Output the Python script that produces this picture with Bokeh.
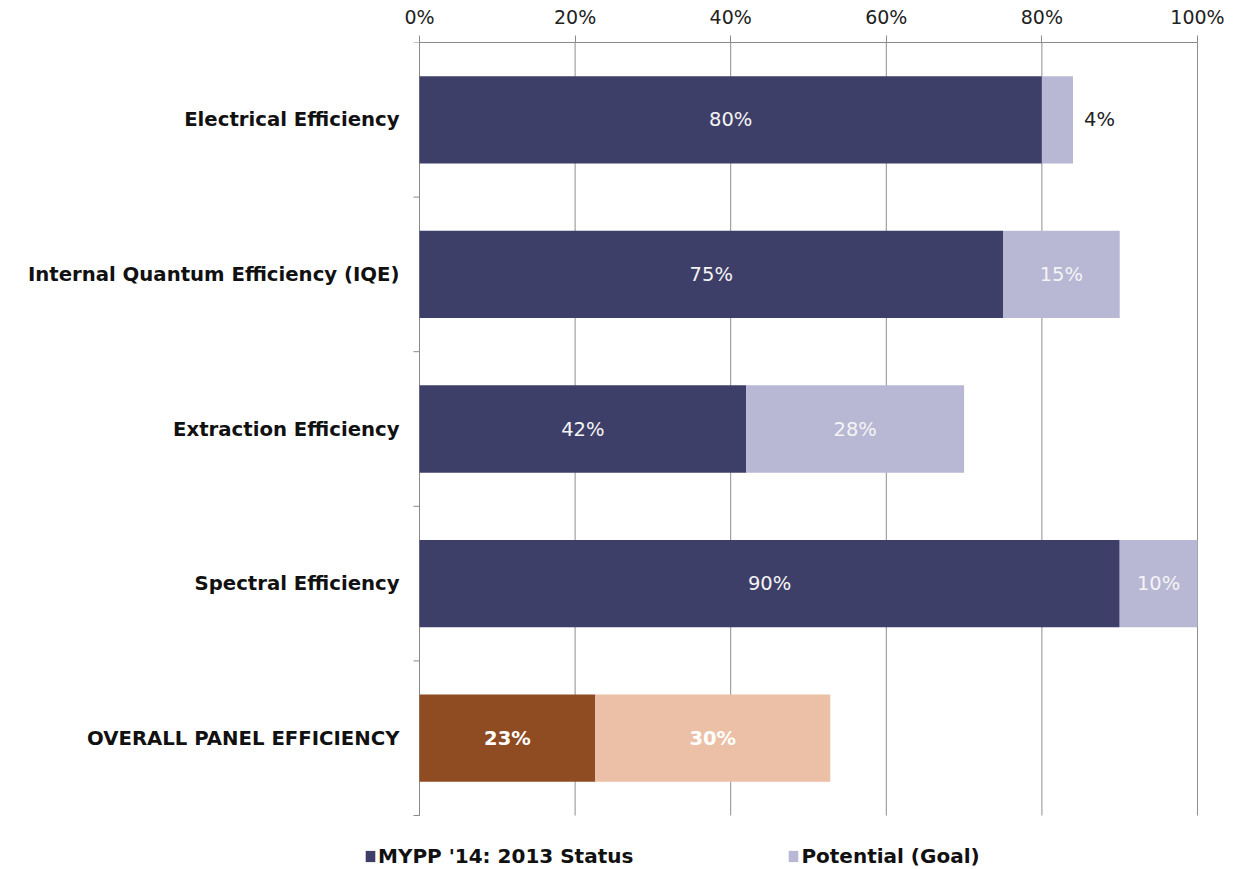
from bokeh.plotting import figure
from bokeh.models import ColumnDataSource, Range1d, FixedTicker, Legend, LegendItem
from bokeh.core.properties import value
from bokeh.embed import file_html
from bokeh.resources import INLINE

# ---- data ----
categories = ["Electrical Efficiency", "Internal Quantum Efficiency (IQE)",
              "Extraction Efficiency", "Spectral Efficiency", "OVERALL PANEL EFFICIENCY"]
status = [80, 75, 42, 90, 22.6]
potential = [4, 15, 28, 10, 30.2]
status_labels = ["80%", "75%", "42%", "90%", "23%"]
potential_labels = ["4%", "15%", "28%", "10%", "30%"]
x_ticks = [0, 20, 40, 60, 80, 100]
x_tick_labels = ["0%", "20%", "40%", "60%", "80%", "100%"]
series_names = ["MYPP '14: 2013 Status", "Potential (Goal)"]

# ---- styles / layout ----
status_colors = ["#3e3f68"] * 4 + ["#8f4b22"]
potential_colors = ["#b8b7d4"] * 4 + ["#ebc0a6"]
FONT = "DejaVu Sans"
AXIS_COLOR = "#8a8a8a"
GRID_COLOR = "#8e8e8e"
W, H = 1228, 869
LEFT_PX, RIGHT_PX = 419, 1197          # pixel positions of 0% and 100%
TOP_PX, BOTTOM_PX = 42, 815            # pixel extent of the category band
TICK_PX = 6

n = len(categories)
x_max = max(x_ticks)
ppu_x = (RIGHT_PX - LEFT_PX) / x_max
ppu_y = (BOTTOM_PX - TOP_PX) / n
x_range = Range1d(-LEFT_PX / ppu_x, (W - LEFT_PX) / ppu_x)
y_range = Range1d(-(H - BOTTOM_PX) / ppu_y, n)

y_pos = [n - i - 0.5 for i in range(n)]
pot_right = [s + p for s, p in zip(status, potential)]

src = ColumnDataSource(dict(
    y=y_pos, status=status, pot_right=pot_right,
    status_mid=[s / 2 for s in status],
    pot_mid=[s + p / 2 for s, p in zip(status, potential)],
    scol=status_colors, pcol=potential_colors,
    slab=status_labels, plab=potential_labels, cat=categories,
))

p = figure(width=W, height=H, output_backend="svg", toolbar_location=None,
           x_range=x_range, y_range=y_range, x_axis_location="above",
           min_border_left=0, min_border_right=0, min_border_top=TOP_PX, min_border_bottom=0)
p.outline_line_color = None
p.background_fill_color = "white"
p.yaxis.visible = False
p.grid.visible = False

# grid lines (only across the category band)
p.segment(x0=x_ticks, y0=[0] * len(x_ticks), x1=x_ticks, y1=[n] * len(x_ticks),
          line_color=GRID_COLOR, line_width=1)
# left axis line and boundary ticks
p.segment(x0=[0], y0=[0], x1=[0], y1=[n], line_color=AXIS_COLOR, line_width=1)
bounds = list(range(n + 1))
p.segment(x0=[-TICK_PX / ppu_x] * len(bounds), y0=bounds, x1=[0] * len(bounds), y1=bounds,
          line_color=AXIS_COLOR, line_width=1)

r1 = p.hbar(y="y", left=0, right="status", height=0.565, fill_color="scol",
            line_color=None, source=src)
r2 = p.hbar(y="y", left="status", right="pot_right", height=0.565, fill_color="pcol",
            line_color=None, source=src)

# category labels
p.text(x=0, y="y", text="cat", source=src, x_offset=-20, text_color="#111111",
       text_font=value(FONT), text_font_style="bold", text_font_size="19.7px",
       text_align="right", text_baseline="middle")

# value labels
inside = [i for i in range(n) if potential[i] >= 5]
outside = [i for i in range(n) if potential[i] < 5]
reg = [i for i in range(n - 1)]

def sub(idx):
    return ColumnDataSource({k: [v[i] for i in idx] for k, v in src.data.items()})

p.text(x="status_mid", y="y", text="slab", source=sub(reg), text_color="#f4f4f4",
       text_font=value(FONT), text_font_size="19.5px", text_align="center", text_baseline="middle")
p.text(x="pot_mid", y="y", text="plab", source=sub([i for i in inside if i < n - 1]),
       text_color="#f4f4f4", text_font=value(FONT), text_font_size="19.5px",
       text_align="center", text_baseline="middle")
p.text(x="pot_right", y="y", text="plab", source=sub(outside), text_color="#222222",
       text_font=value(FONT), text_font_size="19.5px", text_align="left",
       text_baseline="middle", x_offset=11)
last = [n - 1]
p.text(x="status_mid", y="y", text="slab", source=sub(last), text_color="#ffffff",
       text_font=value(FONT), text_font_size="19.5px", text_font_style="bold",
       text_align="center", text_baseline="middle")
p.text(x="pot_mid", y="y", text="plab", source=sub(last), text_color="#ffffff",
       text_font=value(FONT), text_font_size="19.5px", text_font_style="bold",
       text_align="center", text_baseline="middle")

# x axis (top)
xa = p.xaxis[0]
xa.ticker = FixedTicker(ticks=x_ticks)
xa.bounds = (0, x_max)
xa.major_label_overrides = {t: l for t, l in zip(x_ticks, x_tick_labels)}
xa.major_label_text_font = FONT
xa.major_label_text_font_size = "19px"
xa.major_label_text_color = "#222222"
xa.major_tick_out = 7
xa.major_tick_in = 0
xa.minor_tick_line_color = None
xa.axis_line_color = AXIS_COLOR
xa.major_tick_line_color = AXIS_COLOR
xa.major_label_standoff = 8

# legend
legend = Legend(items=[LegendItem(label=series_names[0], renderers=[r1], index=0),
                       LegendItem(label=series_names[1], renderers=[r2], index=0)],
                orientation="horizontal", location=(364, 1))
legend.border_line_color = None
legend.background_fill_alpha = 0
legend.padding = 0
legend.margin = 0
legend.spacing = 154
legend.glyph_width = 12
legend.glyph_height = 14
legend.label_standoff = 2
legend.label_height = 20
legend.label_text_font = FONT
legend.label_text_font_style = "bold"
legend.label_text_font_size = "20px"
legend.label_text_color = "#111111"
p.add_layout(legend, "center")

open("out.html", "w").write(file_html(p, INLINE))
